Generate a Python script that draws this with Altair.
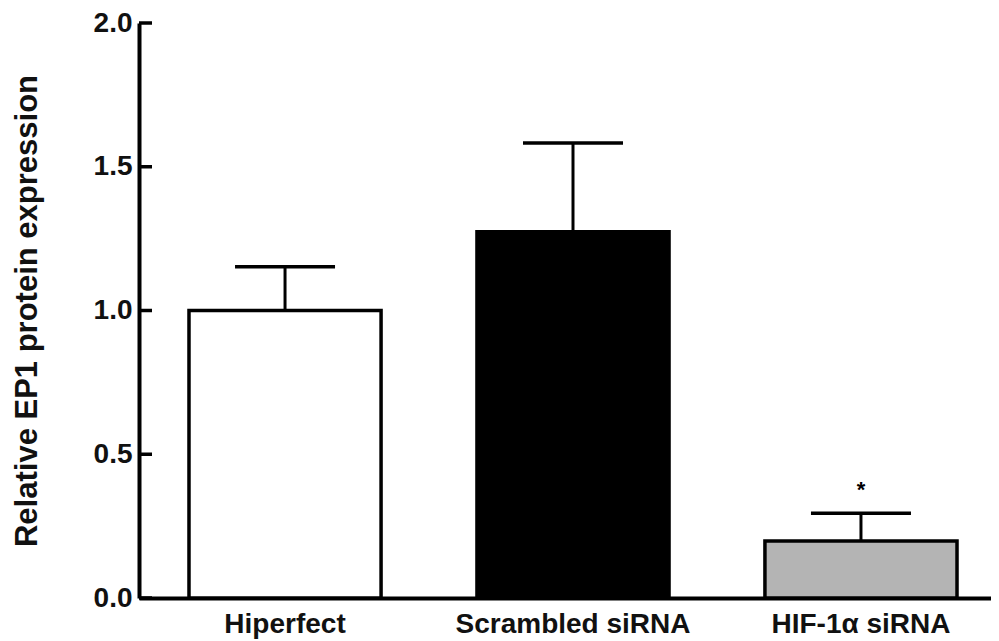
import altair as alt
import pandas as pd

categories = ["Hiperfect", "Scrambled siRNA", "HIF-1α siRNA"]
means = [1.0, 1.274, 0.198]
upper = [1.152, 1.583, 0.295]
colors = ["#ffffff", "#000000", "#b4b4b4"]
y_ticks = [0.0, 0.5, 1.0, 1.5, 2.0]
star_label = ["", "", "*"]
star_y = [None, None, 0.375]

df = pd.DataFrame({"cat": categories, "mean": means, "upper": upper,
                   "color": colors, "star": star_label, "star_y": star_y})
tick_df = pd.DataFrame({"t": y_ticks})

FONT = "Liberation Sans"

xscale = alt.Scale(domain=categories, range=[0, 868], paddingInner=0.333, paddingOuter=0.1736)
yscale = alt.Scale(domain=[0, 2.0], nice=False)

x = alt.X("cat:N", scale=xscale, sort=categories, title=None,
          axis=alt.Axis(labelAngle=0, ticks=False, domainWidth=4, domainColor="black",
                        labelFont=FONT, labelFontSize=28, labelFontWeight="bold",
                        labelColor="#111", labelPadding=12, labelLimit=0, grid=False))
y = alt.Y("mean:Q", scale=yscale, title="Relative EP1 protein expression",
          axis=alt.Axis(values=y_ticks, format=".1f", ticks=False, grid=False,
                        domainWidth=4, domainColor="black",
                        labelFont=FONT, labelFontSize=28, labelFontWeight="bold",
                        labelColor="#111", labelPadding=7,
                        titleFont=FONT, titleFontSize=31, titleFontWeight="bold",
                        titleColor="#111", titlePadding=50))

bars = alt.Chart(df).mark_bar(stroke="black", strokeWidth=3.5).encode(
    x=x, y=y, fill=alt.Fill("color:N", scale=None)
)

err = alt.Chart(df).mark_rule(color="black", strokeWidth=3).encode(
    x=alt.X("cat:N", scale=xscale, sort=categories),
    y=alt.Y("mean:Q", scale=yscale),
    y2="upper:Q",
)

caps = alt.Chart(df).mark_tick(color="black", opacity=1, size=100, thickness=3.5,
                               orient="horizontal").encode(
    x=alt.X("cat:N", scale=xscale, sort=categories),
    y=alt.Y("upper:Q", scale=yscale),
)

stars = alt.Chart(df).mark_text(font=FONT, fontSize=22, fontWeight="bold", color="black",
                                baseline="middle").encode(
    x=alt.X("cat:N", scale=xscale, sort=categories),
    y=alt.Y("star_y:Q", scale=yscale),
    text="star:N",
)

yticks = alt.Chart(tick_df).mark_rule(color="black", strokeWidth=3.5).encode(
    x=alt.value(0), x2=alt.value(13),
    y=alt.Y("t:Q", scale=yscale),
)

chart = alt.layer(bars, err, caps, stars, yticks).properties(
    width=852, height=575,
    autosize=alt.AutoSizeParams(type="none"),
    padding={"left": 131, "top": 15, "right": 0, "bottom": 46},
).configure(background="white").configure_view(stroke=None).configure_axis(grid=False)

chart.save("out.html", embed_options={"renderer": "svg", "actions": False})
